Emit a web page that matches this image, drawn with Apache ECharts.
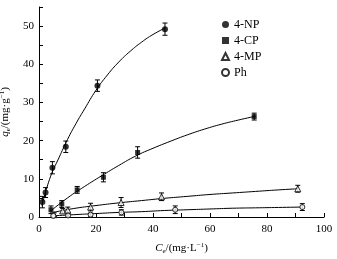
<!DOCTYPE html>
<html>
<head>
<meta charset="utf-8">
<script src="https://cdn.jsdelivr.net/npm/echarts@6/dist/echarts.min.js"></script>
<style>
  html, body { margin: 0; padding: 0; background: #fff; }
  #chart { width: 337px; height: 259px; }
</style>
</head>
<body>
<div id="chart"></div>
<script>
// measured points (Ce, qe, error)
const npX = [1.2, 2.3, 4.7, 9.4, 20.5, 44.2]
const npY = [3.9, 6.4, 12.9, 18.4, 34.4, 49.2]
const npErr = [1.5, 1.3, 1.6, 1.5, 1.5, 1.6]

const cpX = [4.2, 8.0, 13.4, 22.6, 34.6, 75.5]
const cpY = [1.9, 3.4, 7.1, 10.4, 16.9, 26.3]
const cpErr = [1.0, 0.9, 0.9, 1.2, 1.5, 0.9]

const mpX = [5.3, 8.3, 10.1, 18.1, 28.8, 43.0, 90.8]
const mpY = [0.6, 1.6, 1.8, 2.6, 3.8, 5.3, 7.4]
const mpErr = [0.5, 0.6, 0.8, 1.0, 1.3, 1.0, 0.9]

const phX = [5.0, 10.2, 18.1, 28.9, 47.8, 92.4]
const phY = [0.3, 0.4, 0.6, 1.2, 1.9, 2.6]
const phErr = [0.3, 0.4, 0.4, 0.7, 1.0, 0.9]

// fitted curves
const npFitX = [1, 4, 7, 10, 13, 16, 20, 24, 28, 32, 36, 40, 44]
const npFitY = [3.0, 10.5, 15.5, 20.3, 24.5, 28.3, 33.2, 37.2, 40.6, 43.4, 45.8, 47.8, 49.4]
const cpFitX = [4, 10, 16, 22, 28, 34, 40, 46, 52, 58, 64, 70, 76]
const cpFitY = [1.5, 5.0, 8.0, 10.8, 13.5, 16.0, 18.0, 19.8, 21.5, 23.0, 24.3, 25.4, 26.4]
const mpFitX = [5, 12, 20, 28, 36, 44, 52, 60, 68, 76, 84, 91]
const mpFitY = [1.2, 2.2, 3.0, 3.7, 4.3, 4.9, 5.4, 5.9, 6.3, 6.7, 7.1, 7.4]
const phFitX = [5, 12, 20, 28, 36, 44, 52, 60, 68, 76, 84, 92]
const phFitY = [0.3, 0.6, 0.9, 1.2, 1.4, 1.7, 1.9, 2.1, 2.3, 2.4, 2.5, 2.6]

const legendNames = ['4-NP', '4-CP', '4-MP', 'Ph']

const font = 'Liberation Serif'
const zip = (xs, ys) => xs.map((x, i) => [x, ys[i]])

const scatter = (name, xs, ys, symbol, size, hollow) => ({
  name,
  type: 'scatter',
  symbol,
  symbolSize: size,
  itemStyle: hollow
    ? { color: '#fff', borderColor: '#000', borderWidth: 1 }
    : { color: '#000' },
  data: zip(xs, ys),
  z: 5
})

const fit = (xs, ys) => ({
  type: 'line',
  smooth: true,
  symbol: 'none',
  silent: true,
  lineStyle: { color: '#000', width: 1 },
  data: zip(xs, ys),
  z: 2
})

const errBars = (xs, ys, errs) => ({
  type: 'custom',
  silent: true,
  data: xs.map((x, i) => [x, ys[i] - errs[i], ys[i] + errs[i]]),
  renderItem: (params, api) => {
    const lo = api.coord([api.value(0), api.value(1)])
    const hi = api.coord([api.value(0), api.value(2)])
    const w = 2.5
    const st = { stroke: '#000', lineWidth: 1 }
    return {
      type: 'group',
      children: [
        { type: 'line', shape: { x1: lo[0], y1: lo[1], x2: hi[0], y2: hi[1] }, style: st },
        { type: 'line', shape: { x1: lo[0] - w, y1: lo[1], x2: lo[0] + w, y2: lo[1] }, style: st },
        { type: 'line', shape: { x1: hi[0] - w, y1: hi[1], x2: hi[0] + w, y2: hi[1] }, style: st }
      ]
    }
  },
  z: 3
})

const rich = {
  i: { fontStyle: 'italic', fontFamily: font, fontSize: 11 },
  s: { fontFamily: font, fontSize: 7, verticalAlign: 'bottom', padding: [6, 0, 0, 0] },
  p: { fontFamily: font, fontSize: 7, verticalAlign: 'top', padding: [0, 0, 5, 0] }
}

const chart = echarts.init(document.getElementById('chart'))

chart.setOption({
  animation: false,
  backgroundColor: '#fff',
  textStyle: { fontFamily: font },
  grid: { left: 39, right: 13, top: 7, bottom: 42, outerBoundsMode: 'none', containLabel: false },
  legend: {
    data: legendNames,
    orient: 'vertical',
    left: 221,
    top: 18,
    padding: 0,
    itemWidth: 7,
    itemHeight: 7,
    itemGap: 3,
    textStyle: { fontFamily: font, fontSize: 12, lineHeight: 13, color: '#000' }
  },
  xAxis: {
    type: 'value',
    min: 0,
    max: 100,
    interval: 10,
    name: '{i|C}{s|e}/(mg·L{p|−1})',
    nameLocation: 'middle',
    nameGap: 25,
    nameTextStyle: { color: '#000', fontFamily: font, fontSize: 11, rich },
    axisLine: { lineStyle: { color: '#000', width: 1 } },
    axisTick: { inside: true, length: 4, lineStyle: { color: '#000' } },
    axisLabel: {
      color: '#000',
      fontFamily: font,
      fontSize: 11,
      margin: 7,
      formatter: v => (v % 20 === 0 ? String(v) : '')
    },
    splitLine: { show: false }
  },
  yAxis: {
    type: 'value',
    min: 0,
    max: 55,
    interval: 5,
    name: '{i|q}{s|e}/(mg·g{p|−1})',
    nameLocation: 'middle',
    nameGap: 26,
    nameRotate: 90,
    nameTextStyle: { color: '#000', fontFamily: font, fontSize: 11, rich },
    axisLine: { show: true, lineStyle: { color: '#000', width: 1 } },
    axisTick: { show: true, inside: true, length: 4, lineStyle: { color: '#000' } },
    axisLabel: {
      color: '#000',
      fontFamily: font,
      fontSize: 11,
      margin: 5,
      formatter: v => (v % 10 === 0 ? String(v) : '')
    },
    splitLine: { show: false }
  },
  series: [
    fit(npFitX, npFitY),
    fit(cpFitX, cpFitY),
    fit(mpFitX, mpFitY),
    fit(phFitX, phFitY),
    errBars(npX, npY, npErr),
    errBars(cpX, cpY, cpErr),
    errBars(mpX, mpY, mpErr),
    errBars(phX, phY, phErr),
    scatter('4-NP', npX, npY, 'circle', 6, false),
    scatter('4-CP', cpX, cpY, 'rect', 5, false),
    scatter('4-MP', mpX, mpY, 'triangle', 6, true),
    scatter('Ph', phX, phY, 'circle', 5, true)
  ]
})
</script>
</body>
</html>
